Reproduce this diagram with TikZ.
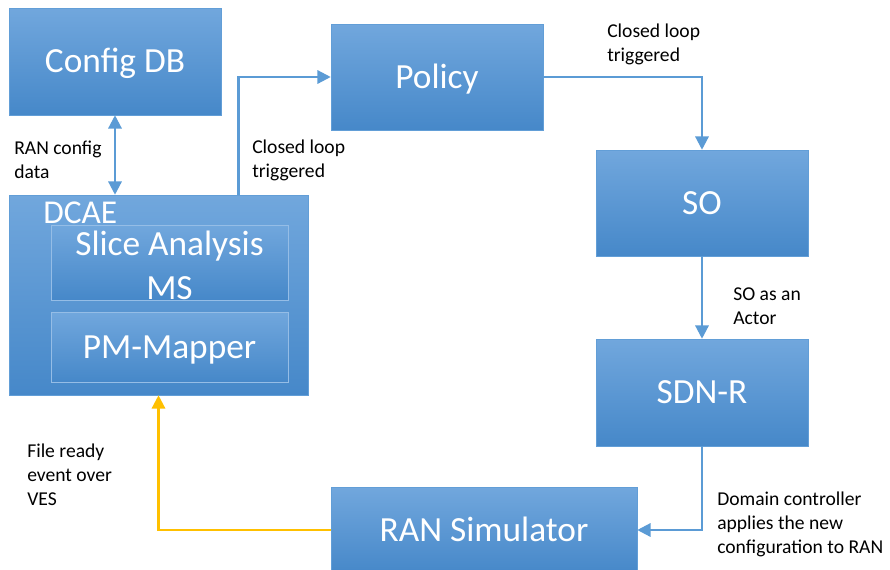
\documentclass[tikz,border=0pt]{standalone}
\usepackage{fontspec}
\setmainfont{Carlito}
\usetikzlibrary{arrows.meta, calc}
\definecolor{blockTop}{RGB}{113,167,221}
\definecolor{blockBottom}{RGB}{70,136,201}
\definecolor{blockEdge}{RGB}{98,158,215}
\definecolor{arrowBlue}{RGB}{91,155,213}
\definecolor{arrowYellow}{RGB}{255,192,0}
\tikzstyle{canvas} = [x = .75pt, y = -.75pt]
\tikzstyle{blockStyle} = [draw=blockEdge, top color=blockTop, bottom color=blockBottom, text=white, font=\fontsize{26.5}{32}\selectfont, inner sep=0pt, align=center, text height=24pt, text depth=6.8pt]
\tikzstyle{innerBlockStyle} = [blockStyle, draw=blockTop!75!white]
\tikzstyle{flowLine} = [draw=arrowBlue, line width=1.7pt, -{Triangle[width=10pt, length=10pt]}]
\tikzstyle{fileLine} = [flowLine, draw=arrowYellow, {Triangle[width=10pt, length=10pt]}-]
\tikzstyle{noteText} = [font=\fontsize{14.7}{18}\selectfont, align=left, anchor=west, inner sep=0pt]
\newcommand{\blockNode}[6]{\node [blockStyle, minimum width = #4 * .75pt, minimum height = #5 * .75pt] (#1) at (#2, #3) {#6};}
\newcommand{\innerBlockNode}[6]{\node [innerBlockStyle, minimum width = #4 * .75pt, minimum height = #5 * .75pt] (#1) at (#2, #3) {#6};}

\begin{document}
\begin{tikzpicture}[canvas]
  \clip (0,0) rectangle (890,569);
  \blockNode{configDb}{115}{61.5}{212}{107}{Config DB}
  \blockNode{policy}{437}{77}{212}{106}{Policy}
  \blockNode{so}{702}{203}{212}{106}{SO}
  \blockNode{sdnr}{702}{392.5}{212}{107}{SDN-R}
  \blockNode{ranSim}{484}{530}{306}{86}{RAN Simulator}
  \blockNode{dcae}{158.5}{295}{299}{200}{}
  \node [blockStyle, draw=none, shade=none, anchor=west, font=\fontsize{25}{30}\selectfont] (dcaeLabel) at (43, 212) {DCAE};
  \innerBlockNode{sliceMs}{169.5}{262.5}{237}{75}{}
  \node [blockStyle, draw=none, shade=none, text height=, text depth=] (sliceMsText) at (169.5, 265) {Slice Analysis\\[1pt]MS};
  \innerBlockNode{pmMapper}{169.5}{347}{237}{70}{PM-Mapper}

  % connectors
  \draw [flowLine, {Triangle[width=10pt, length=10pt]}-{Triangle[width=10pt, length=10pt]}] (configDb.south) -- (configDb.south |- dcae.north);
  \coordinate (loopStart) at ($(dcae.north) + (80,0)$);
  \draw [flowLine] (loopStart) |- (policy.west);
  \draw [flowLine] (policy.east) -| (so.north);
  \draw [flowLine] (so.south) -- (sdnr.north);
  \draw [flowLine] (sdnr.south) |- (ranSim.east);
  \draw [fileLine] (dcae.south) |- (ranSim.west);

  % notes
  \node [noteText] (ranConfigNote) at (14, 160) {RAN config\\data};
  \node [noteText] (loopNoteLeft) at (252, 160) {Closed loop\\triggered};
  \node [noteText] (loopNoteRight) at (607, 44) {Closed loop\\triggered};
  \node [noteText] (actorNote) at (733, 306) {SO as an\\Actor};
  \node [noteText] (fileNote) at (27, 475) {File ready\\event over\\VES};
  \node [noteText] (domainNote) at (717, 524) {Domain controller\\applies the new\\configuration to RAN};
\end{tikzpicture}
\end{document}
